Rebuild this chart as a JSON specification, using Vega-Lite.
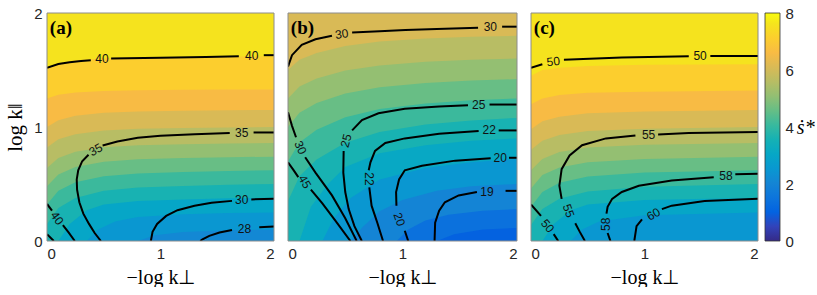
{
"$schema":"https://vega.github.io/schema/vega-lite/v6.json",
"padding":{"left":4,"top":6,"right":0,"bottom":0},
"background":"white",
"spacing":14,
"bounds":"flush",
"resolve":{"scale":{"color":"shared"}},
"config":{"view":{"stroke":null},"axis":{"labelFont":"Liberation Sans","labelFontSize":15,"labelColor":"#262626","ticks":false,"domain":false,"grid":false,"format":"d","titleFont":"Liberation Serif","titleFontSize":20,"titleFontWeight":"normal","titleColor":"#000"}},
"datasets":{
"tags":[{"p":"a","t":"(a)","x":0.025,"y":1.87},{"p":"b","t":"(b)","x":0.025,"y":1.87},{"p":"c","t":"(c)","x":0.025,"y":1.87}],
"labels":[
{"p":"a","id":"h","t":"40","x":0.484,"y":1.594},{"p":"a","id":"h","t":"40","x":1.804,"y":1.626},{"p":"a","id":"h","t":"35","x":1.715,"y":0.95},{"p":"a","id":"a35","t":"35","x":0.43,"y":0.8},{"p":"a","id":"h","t":"30","x":1.715,"y":0.359},{"p":"a","id":"h","t":"28","x":1.74,"y":0.109},{"p":"a","id":"a40","t":"40","x":0.088,"y":0.2},
{"p":"b","id":"h","t":"30","x":1.767,"y":1.88},{"p":"b","id":"h","t":"25","x":1.665,"y":1.197},{"p":"b","id":"h","t":"22","x":1.758,"y":0.97},{"p":"b","id":"h","t":"20","x":1.854,"y":0.73},{"p":"b","id":"h","t":"19","x":1.738,"y":0.432},{"p":"b","id":"b30t","t":"30","x":0.47,"y":1.815},{"p":"b","id":"b30l","t":"30","x":0.108,"y":0.82},{"p":"b","id":"b45","t":"45","x":0.146,"y":0.52},{"p":"b","id":"b25","t":"25","x":0.507,"y":0.88},{"p":"b","id":"b22","t":"22","x":0.705,"y":0.544},{"p":"b","id":"b20","t":"20","x":0.972,"y":0.19},
{"p":"c","id":"h","t":"50","x":1.49,"y":1.62},{"p":"c","id":"h","t":"55","x":1.036,"y":0.932},{"p":"c","id":"h","t":"58","x":1.717,"y":0.574},{"p":"c","id":"c50t","t":"50","x":0.196,"y":1.574},{"p":"c","id":"c55","t":"55","x":0.33,"y":0.265},{"p":"c","id":"c58","t":"58","x":0.663,"y":0.147},{"p":"c","id":"c60","t":"60","x":1.08,"y":0.235},{"p":"c","id":"c50b","t":"50","x":0.146,"y":0.132}
],
"lines":[
{"p":"a","c":"a1","i":0,"x":0,"y":1.52},{"p":"a","c":"a1","i":1,"x":0.1,"y":1.552},{"p":"a","c":"a1","i":2,"x":0.2,"y":1.568},{"p":"a","c":"a1","i":3,"x":0.3,"y":1.578},{"p":"a","c":"a1","i":4,"x":0.386,"y":1.585},
{"p":"a","c":"a2","i":0,"x":0.565,"y":1.6},{"p":"a","c":"a2","i":1,"x":1.0,"y":1.608},{"p":"a","c":"a2","i":2,"x":1.4,"y":1.615},{"p":"a","c":"a2","i":3,"x":1.69,"y":1.62},
{"p":"a","c":"a3","i":0,"x":1.91,"y":1.63},{"p":"a","c":"a3","i":1,"x":2,"y":1.63},
{"p":"a","c":"a4","i":0,"x":1.82,"y":0.952},{"p":"a","c":"a4","i":1,"x":2,"y":0.952},
{"p":"a","c":"a5","i":0,"x":1.61,"y":0.947},{"p":"a","c":"a5","i":1,"x":1.3,"y":0.937},{"p":"a","c":"a5","i":2,"x":1.0,"y":0.924},{"p":"a","c":"a5","i":3,"x":0.8,"y":0.905},{"p":"a","c":"a5","i":4,"x":0.62,"y":0.872},{"p":"a","c":"a5","i":5,"x":0.49,"y":0.838},
{"p":"a","c":"a6","i":0,"x":0.366,"y":0.756},{"p":"a","c":"a6","i":1,"x":0.31,"y":0.7},{"p":"a","c":"a6","i":2,"x":0.275,"y":0.62},{"p":"a","c":"a6","i":3,"x":0.262,"y":0.54},{"p":"a","c":"a6","i":4,"x":0.265,"y":0.45},{"p":"a","c":"a6","i":5,"x":0.285,"y":0.34},{"p":"a","c":"a6","i":6,"x":0.32,"y":0.24},{"p":"a","c":"a6","i":7,"x":0.37,"y":0.15},{"p":"a","c":"a6","i":8,"x":0.42,"y":0.07},{"p":"a","c":"a6","i":9,"x":0.475,"y":0},
{"p":"a","c":"a7","i":0,"x":1.8,"y":0.365},{"p":"a","c":"a7","i":1,"x":2,"y":0.37},
{"p":"a","c":"a8","i":0,"x":1.63,"y":0.352},{"p":"a","c":"a8","i":1,"x":1.45,"y":0.335},{"p":"a","c":"a8","i":2,"x":1.3,"y":0.31},{"p":"a","c":"a8","i":3,"x":1.15,"y":0.27},{"p":"a","c":"a8","i":4,"x":1.05,"y":0.22},{"p":"a","c":"a8","i":5,"x":0.97,"y":0.15},{"p":"a","c":"a8","i":6,"x":0.93,"y":0.08},{"p":"a","c":"a8","i":7,"x":0.915,"y":0},
{"p":"a","c":"a9","i":0,"x":1.87,"y":0.12},{"p":"a","c":"a9","i":1,"x":2,"y":0.128},
{"p":"a","c":"a10","i":0,"x":1.63,"y":0.097},{"p":"a","c":"a10","i":1,"x":1.52,"y":0.075},{"p":"a","c":"a10","i":2,"x":1.43,"y":0.045},{"p":"a","c":"a10","i":3,"x":1.37,"y":0.015},{"p":"a","c":"a10","i":4,"x":1.35,"y":0},
{"p":"a","c":"a11","i":0,"x":0,"y":0.325},{"p":"a","c":"a11","i":1,"x":0.044,"y":0.266},
{"p":"a","c":"a12","i":0,"x":0.14,"y":0.14},{"p":"a","c":"a12","i":1,"x":0.19,"y":0.075},{"p":"a","c":"a12","i":2,"x":0.245,"y":0},
{"p":"a","c":"a13","i":0,"x":0,"y":0.06},{"p":"a","c":"a13","i":1,"x":0.06,"y":0},
{"p":"b","c":"b1","i":0,"x":0,"y":1.53},{"p":"b","c":"b1","i":1,"x":0.035,"y":1.63},{"p":"b","c":"b1","i":2,"x":0.12,"y":1.72},{"p":"b","c":"b1","i":3,"x":0.24,"y":1.77},{"p":"b","c":"b1","i":4,"x":0.384,"y":1.8},
{"p":"b","c":"b2","i":0,"x":0.56,"y":1.83},{"p":"b","c":"b2","i":1,"x":0.8,"y":1.84},{"p":"b","c":"b2","i":2,"x":1.025,"y":1.85},{"p":"b","c":"b2","i":3,"x":1.3,"y":1.86},{"p":"b","c":"b2","i":4,"x":1.66,"y":1.87},
{"p":"b","c":"b3","i":0,"x":1.87,"y":1.88},{"p":"b","c":"b3","i":1,"x":2,"y":1.88},
{"p":"b","c":"b4","i":0,"x":1.76,"y":1.197},{"p":"b","c":"b4","i":1,"x":2,"y":1.197},
{"p":"b","c":"b5","i":0,"x":1.572,"y":1.19},{"p":"b","c":"b5","i":1,"x":1.32,"y":1.18},{"p":"b","c":"b5","i":2,"x":1.02,"y":1.16},{"p":"b","c":"b5","i":3,"x":0.79,"y":1.12},{"p":"b","c":"b5","i":4,"x":0.646,"y":1.06},{"p":"b","c":"b5","i":5,"x":0.56,"y":0.97},
{"p":"b","c":"b6","i":0,"x":0.486,"y":0.79},{"p":"b","c":"b6","i":1,"x":0.483,"y":0.6},{"p":"b","c":"b6","i":2,"x":0.5,"y":0.43},{"p":"b","c":"b6","i":3,"x":0.53,"y":0.28},{"p":"b","c":"b6","i":4,"x":0.58,"y":0.13},{"p":"b","c":"b6","i":5,"x":0.645,"y":0},
{"p":"b","c":"b7","i":0,"x":1.84,"y":0.97},{"p":"b","c":"b7","i":1,"x":2,"y":0.97},
{"p":"b","c":"b8","i":0,"x":1.665,"y":0.965},{"p":"b","c":"b8","i":1,"x":1.32,"y":0.94},{"p":"b","c":"b8","i":2,"x":1.02,"y":0.9},{"p":"b","c":"b8","i":3,"x":0.85,"y":0.86},{"p":"b","c":"b8","i":4,"x":0.76,"y":0.79},{"p":"b","c":"b8","i":5,"x":0.72,"y":0.69},{"p":"b","c":"b8","i":6,"x":0.705,"y":0.62},
{"p":"b","c":"b9","i":0,"x":0.71,"y":0.47},{"p":"b","c":"b9","i":1,"x":0.73,"y":0.31},{"p":"b","c":"b9","i":2,"x":0.78,"y":0.16},{"p":"b","c":"b9","i":3,"x":0.83,"y":0},
{"p":"b","c":"b10","i":0,"x":1.93,"y":0.73},{"p":"b","c":"b10","i":1,"x":2,"y":0.73},
{"p":"b","c":"b11","i":0,"x":1.77,"y":0.726},{"p":"b","c":"b11","i":1,"x":1.46,"y":0.705},{"p":"b","c":"b11","i":2,"x":1.17,"y":0.66},{"p":"b","c":"b11","i":3,"x":1.02,"y":0.62},{"p":"b","c":"b11","i":4,"x":0.97,"y":0.54},{"p":"b","c":"b11","i":5,"x":0.944,"y":0.43},{"p":"b","c":"b11","i":6,"x":0.947,"y":0.31},
{"p":"b","c":"b12","i":0,"x":1.02,"y":0.09},{"p":"b","c":"b12","i":1,"x":1.05,"y":0},
{"p":"b","c":"b13","i":0,"x":1.9,"y":0.44},{"p":"b","c":"b13","i":1,"x":2,"y":0.44},
{"p":"b","c":"b14","i":0,"x":1.65,"y":0.43},{"p":"b","c":"b14","i":1,"x":1.49,"y":0.4},{"p":"b","c":"b14","i":2,"x":1.37,"y":0.34},{"p":"b","c":"b14","i":3,"x":1.32,"y":0.265},{"p":"b","c":"b14","i":4,"x":1.285,"y":0.16},{"p":"b","c":"b14","i":5,"x":1.28,"y":0},
{"p":"b","c":"b15","i":0,"x":0,"y":1.13},{"p":"b","c":"b15","i":1,"x":0.035,"y":1.01},{"p":"b","c":"b15","i":2,"x":0.07,"y":0.91},
{"p":"b","c":"b16","i":0,"x":0.15,"y":0.735},{"p":"b","c":"b16","i":1,"x":0.24,"y":0.6},{"p":"b","c":"b16","i":2,"x":0.384,"y":0.4},{"p":"b","c":"b16","i":3,"x":0.5,"y":0.2},{"p":"b","c":"b16","i":4,"x":0.6,"y":0},
{"p":"b","c":"b17","i":0,"x":0,"y":0.69},{"p":"b","c":"b17","i":1,"x":0.05,"y":0.62},{"p":"b","c":"b17","i":2,"x":0.09,"y":0.56},
{"p":"b","c":"b18","i":0,"x":0.2,"y":0.45},{"p":"b","c":"b18","i":1,"x":0.3,"y":0.33},{"p":"b","c":"b18","i":2,"x":0.42,"y":0.17},{"p":"b","c":"b18","i":3,"x":0.545,"y":0},
{"p":"c","c":"c1","i":0,"x":0,"y":1.52},{"p":"c","c":"c1","i":1,"x":0.1,"y":1.55},
{"p":"c","c":"c2","i":0,"x":0.29,"y":1.59},{"p":"c","c":"c2","i":1,"x":0.8,"y":1.61},{"p":"c","c":"c2","i":2,"x":1.39,"y":1.62},
{"p":"c","c":"c3","i":0,"x":1.58,"y":1.623},{"p":"c","c":"c3","i":1,"x":2,"y":1.623},
{"p":"c","c":"c4","i":0,"x":2,"y":0.956},{"p":"c","c":"c4","i":1,"x":1.39,"y":0.947},{"p":"c","c":"c4","i":2,"x":1.12,"y":0.935},
{"p":"c","c":"c5","i":0,"x":0.92,"y":0.926},{"p":"c","c":"c5","i":1,"x":0.66,"y":0.9},{"p":"c","c":"c5","i":2,"x":0.45,"y":0.84},{"p":"c","c":"c5","i":3,"x":0.34,"y":0.75},{"p":"c","c":"c5","i":4,"x":0.27,"y":0.63},{"p":"c","c":"c5","i":5,"x":0.25,"y":0.485},{"p":"c","c":"c5","i":6,"x":0.27,"y":0.37},
{"p":"c","c":"c6","i":0,"x":0.39,"y":0.156},{"p":"c","c":"c6","i":1,"x":0.43,"y":0.08},{"p":"c","c":"c6","i":2,"x":0.475,"y":0},
{"p":"c","c":"c7","i":0,"x":2,"y":0.59},{"p":"c","c":"c7","i":1,"x":1.8,"y":0.585},
{"p":"c","c":"c8","i":0,"x":1.61,"y":0.56},{"p":"c","c":"c8","i":1,"x":1.24,"y":0.53},{"p":"c","c":"c8","i":2,"x":0.95,"y":0.485},{"p":"c","c":"c8","i":3,"x":0.8,"y":0.43},{"p":"c","c":"c8","i":4,"x":0.715,"y":0.37},{"p":"c","c":"c8","i":5,"x":0.675,"y":0.3},{"p":"c","c":"c8","i":6,"x":0.665,"y":0.24},
{"p":"c","c":"c9","i":0,"x":0.675,"y":0.07},{"p":"c","c":"c9","i":1,"x":0.7,"y":0},
{"p":"c","c":"c10","i":0,"x":2,"y":0.37},{"p":"c","c":"c10","i":1,"x":1.53,"y":0.35},{"p":"c","c":"c10","i":2,"x":1.24,"y":0.31},{"p":"c","c":"c10","i":3,"x":1.153,"y":0.28},
{"p":"c","c":"c11","i":0,"x":0.978,"y":0.19},{"p":"c","c":"c11","i":1,"x":0.93,"y":0.13},{"p":"c","c":"c11","i":2,"x":0.91,"y":0},
{"p":"c","c":"c12","i":0,"x":0,"y":0.32},{"p":"c","c":"c12","i":1,"x":0.088,"y":0.22},
{"p":"c","c":"c13","i":0,"x":0.2,"y":0.06},{"p":"c","c":"c13","i":1,"x":0.24,"y":0}
],
"fill":[
{"p":"a","b":"a00","v":7.6,"x":0,"y":2},{"p":"a","b":"a00","v":7.6,"x":2,"y":2},
{"p":"a","b":"a01","v":7.1,"x":0,"y":1.52},{"p":"a","b":"a01","v":7.1,"x":0.1,"y":1.56},{"p":"a","b":"a01","v":7.1,"x":0.25,"y":1.585},{"p":"a","b":"a01","v":7.1,"x":0.5,"y":1.603},{"p":"a","b":"a01","v":7.1,"x":0.8,"y":1.611},{"p":"a","b":"a01","v":7.1,"x":1.2,"y":1.615},{"p":"a","b":"a01","v":7.1,"x":1.6,"y":1.618},{"p":"a","b":"a01","v":7.1,"x":2,"y":1.62},
{"p":"a","b":"a02","v":6.6,"x":0,"y":1.25},{"p":"a","b":"a02","v":6.6,"x":0.1,"y":1.282},{"p":"a","b":"a02","v":6.6,"x":0.25,"y":1.302},{"p":"a","b":"a02","v":6.6,"x":0.5,"y":1.316},{"p":"a","b":"a02","v":6.6,"x":0.8,"y":1.323},{"p":"a","b":"a02","v":6.6,"x":1.2,"y":1.326},{"p":"a","b":"a02","v":6.6,"x":1.6,"y":1.328},{"p":"a","b":"a02","v":6.6,"x":2,"y":1.33},
{"p":"a","b":"a03","v":6.1,"x":0,"y":1.0},{"p":"a","b":"a03","v":6.1,"x":0.1,"y":1.06},{"p":"a","b":"a03","v":6.1,"x":0.25,"y":1.098},{"p":"a","b":"a03","v":6.1,"x":0.5,"y":1.125},{"p":"a","b":"a03","v":6.1,"x":0.8,"y":1.137},{"p":"a","b":"a03","v":6.1,"x":1.2,"y":1.143},{"p":"a","b":"a03","v":6.1,"x":1.6,"y":1.147},{"p":"a","b":"a03","v":6.1,"x":2,"y":1.15},
{"p":"a","b":"a04","v":5.6,"x":0,"y":0.82},{"p":"a","b":"a04","v":5.6,"x":0.1,"y":0.892},{"p":"a","b":"a04","v":5.6,"x":0.25,"y":0.937},{"p":"a","b":"a04","v":5.6,"x":0.5,"y":0.969},{"p":"a","b":"a04","v":5.6,"x":0.8,"y":0.984},{"p":"a","b":"a04","v":5.6,"x":1.2,"y":0.991},{"p":"a","b":"a04","v":5.6,"x":1.6,"y":0.996},{"p":"a","b":"a04","v":5.6,"x":2,"y":1.0},
{"p":"a","b":"a05","v":5.1,"x":0,"y":0.64},{"p":"a","b":"a05","v":5.1,"x":0.1,"y":0.728},{"p":"a","b":"a05","v":5.1,"x":0.25,"y":0.783},{"p":"a","b":"a05","v":5.1,"x":0.5,"y":0.823},{"p":"a","b":"a05","v":5.1,"x":0.8,"y":0.84},{"p":"a","b":"a05","v":5.1,"x":1.2,"y":0.849},{"p":"a","b":"a05","v":5.1,"x":1.6,"y":0.856},{"p":"a","b":"a05","v":5.1,"x":2,"y":0.86},
{"p":"a","b":"a06","v":4.6,"x":0,"y":0.48},{"p":"a","b":"a06","v":4.6,"x":0.1,"y":0.584},{"p":"a","b":"a06","v":4.6,"x":0.25,"y":0.649},{"p":"a","b":"a06","v":4.6,"x":0.5,"y":0.696},{"p":"a","b":"a06","v":4.6,"x":0.8,"y":0.717},{"p":"a","b":"a06","v":4.6,"x":1.2,"y":0.727},{"p":"a","b":"a06","v":4.6,"x":1.6,"y":0.735},{"p":"a","b":"a06","v":4.6,"x":2,"y":0.74},
{"p":"a","b":"a07","v":4.1,"x":0,"y":0.32},{"p":"a","b":"a07","v":4.1,"x":0.1,"y":0.44},{"p":"a","b":"a07","v":4.1,"x":0.25,"y":0.515},{"p":"a","b":"a07","v":4.1,"x":0.5,"y":0.569},{"p":"a","b":"a07","v":4.1,"x":0.8,"y":0.593},{"p":"a","b":"a07","v":4.1,"x":1.2,"y":0.605},{"p":"a","b":"a07","v":4.1,"x":1.6,"y":0.614},{"p":"a","b":"a07","v":4.1,"x":2,"y":0.62},
{"p":"a","b":"a08","v":3.6,"x":0,"y":0.15},{"p":"a","b":"a08","v":3.6,"x":0.1,"y":0.29},{"p":"a","b":"a08","v":3.6,"x":0.25,"y":0.378},{"p":"a","b":"a08","v":3.6,"x":0.5,"y":0.44},{"p":"a","b":"a08","v":3.6,"x":0.8,"y":0.469},{"p":"a","b":"a08","v":3.6,"x":1.2,"y":0.483},{"p":"a","b":"a08","v":3.6,"x":1.6,"y":0.493},{"p":"a","b":"a08","v":3.6,"x":2,"y":0.5},
{"p":"a","b":"a09","v":3.0,"x":0.1,"y":0},{"p":"a","b":"a09","v":3.0,"x":0.2,"y":0.15},{"p":"a","b":"a09","v":3.0,"x":0.35,"y":0.27},{"p":"a","b":"a09","v":3.0,"x":0.5,"y":0.32},{"p":"a","b":"a09","v":3.0,"x":0.8,"y":0.35},{"p":"a","b":"a09","v":3.0,"x":1.2,"y":0.365},{"p":"a","b":"a09","v":3.0,"x":1.6,"y":0.375},{"p":"a","b":"a09","v":3.0,"x":2,"y":0.38},
{"p":"a","b":"a10","v":2.5,"x":0.35,"y":0},{"p":"a","b":"a10","v":2.5,"x":0.45,"y":0.1},{"p":"a","b":"a10","v":2.5,"x":0.6,"y":0.17},{"p":"a","b":"a10","v":2.5,"x":0.8,"y":0.21},{"p":"a","b":"a10","v":2.5,"x":1.2,"y":0.235},{"p":"a","b":"a10","v":2.5,"x":1.6,"y":0.245},{"p":"a","b":"a10","v":2.5,"x":2,"y":0.25},
{"p":"a","b":"a11","v":2.1,"x":0.8,"y":0},{"p":"a","b":"a11","v":2.1,"x":0.95,"y":0.05},{"p":"a","b":"a11","v":2.1,"x":1.2,"y":0.08},{"p":"a","b":"a11","v":2.1,"x":1.6,"y":0.095},{"p":"a","b":"a11","v":2.1,"x":2,"y":0.1},
{"p":"b","b":"b00","v":6.1,"x":0,"y":2},{"p":"b","b":"b00","v":6.1,"x":2,"y":2},
{"p":"b","b":"b01","v":5.6,"x":0,"y":1.5},{"p":"b","b":"b01","v":5.6,"x":0.1,"y":1.59},{"p":"b","b":"b01","v":5.6,"x":0.25,"y":1.65},{"p":"b","b":"b01","v":5.6,"x":0.5,"y":1.71},{"p":"b","b":"b01","v":5.6,"x":0.8,"y":1.749},{"p":"b","b":"b01","v":5.6,"x":1.2,"y":1.776},{"p":"b","b":"b01","v":5.6,"x":1.6,"y":1.791},{"p":"b","b":"b01","v":5.6,"x":2,"y":1.8},
{"p":"b","b":"b02","v":5.1,"x":0,"y":1.25},{"p":"b","b":"b02","v":5.1,"x":0.1,"y":1.355},{"p":"b","b":"b02","v":5.1,"x":0.25,"y":1.425},{"p":"b","b":"b02","v":5.1,"x":0.5,"y":1.495},{"p":"b","b":"b02","v":5.1,"x":0.8,"y":1.54},{"p":"b","b":"b02","v":5.1,"x":1.2,"y":1.572},{"p":"b","b":"b02","v":5.1,"x":1.6,"y":1.59},{"p":"b","b":"b02","v":5.1,"x":2,"y":1.6},
{"p":"b","b":"b03","v":4.6,"x":0,"y":1.0},{"p":"b","b":"b03","v":4.6,"x":0.1,"y":1.126},{"p":"b","b":"b03","v":4.6,"x":0.25,"y":1.21},{"p":"b","b":"b03","v":4.6,"x":0.5,"y":1.294},{"p":"b","b":"b03","v":4.6,"x":0.8,"y":1.349},{"p":"b","b":"b03","v":4.6,"x":1.2,"y":1.386},{"p":"b","b":"b03","v":4.6,"x":1.6,"y":1.407},{"p":"b","b":"b03","v":4.6,"x":2,"y":1.42},
{"p":"b","b":"b04","v":4.1,"x":0,"y":0.7},{"p":"b","b":"b04","v":4.1,"x":0.1,"y":0.865},{"p":"b","b":"b04","v":4.1,"x":0.25,"y":0.975},{"p":"b","b":"b04","v":4.1,"x":0.5,"y":1.085},{"p":"b","b":"b04","v":4.1,"x":0.8,"y":1.157},{"p":"b","b":"b04","v":4.1,"x":1.2,"y":1.206},{"p":"b","b":"b04","v":4.1,"x":1.6,"y":1.234},{"p":"b","b":"b04","v":4.1,"x":2,"y":1.25},
{"p":"b","b":"b05","v":3.6,"x":0,"y":0.35},{"p":"b","b":"b05","v":3.6,"x":0.1,"y":0.569},{"p":"b","b":"b05","v":3.6,"x":0.25,"y":0.715},{"p":"b","b":"b05","v":3.6,"x":0.5,"y":0.861},{"p":"b","b":"b05","v":3.6,"x":0.8,"y":0.956},{"p":"b","b":"b05","v":3.6,"x":1.2,"y":1.022},{"p":"b","b":"b05","v":3.6,"x":1.6,"y":1.058},{"p":"b","b":"b05","v":3.6,"x":2,"y":1.08},
{"p":"b","b":"b06","v":3.1,"x":0.1,"y":0},{"p":"b","b":"b06","v":3.1,"x":0.2,"y":0.3},{"p":"b","b":"b06","v":3.1,"x":0.35,"y":0.5},{"p":"b","b":"b06","v":3.1,"x":0.5,"y":0.65},{"p":"b","b":"b06","v":3.1,"x":0.8,"y":0.77},{"p":"b","b":"b06","v":3.1,"x":1.2,"y":0.84},{"p":"b","b":"b06","v":3.1,"x":1.6,"y":0.88},{"p":"b","b":"b06","v":3.1,"x":2,"y":0.9},
{"p":"b","b":"b07","v":2.5,"x":0.3,"y":0},{"p":"b","b":"b07","v":2.5,"x":0.4,"y":0.2},{"p":"b","b":"b07","v":2.5,"x":0.55,"y":0.38},{"p":"b","b":"b07","v":2.5,"x":0.8,"y":0.54},{"p":"b","b":"b07","v":2.5,"x":1.2,"y":0.64},{"p":"b","b":"b07","v":2.5,"x":1.6,"y":0.69},{"p":"b","b":"b07","v":2.5,"x":2,"y":0.72},
{"p":"b","b":"b08","v":2.0,"x":0.55,"y":0},{"p":"b","b":"b08","v":2.0,"x":0.65,"y":0.12},{"p":"b","b":"b08","v":2.0,"x":0.8,"y":0.26},{"p":"b","b":"b08","v":2.0,"x":1.0,"y":0.36},{"p":"b","b":"b08","v":2.0,"x":1.3,"y":0.44},{"p":"b","b":"b08","v":2.0,"x":1.6,"y":0.48},{"p":"b","b":"b08","v":2.0,"x":2,"y":0.5},
{"p":"b","b":"b09","v":1.4,"x":0.95,"y":0},{"p":"b","b":"b09","v":1.4,"x":1.05,"y":0.1},{"p":"b","b":"b09","v":1.4,"x":1.2,"y":0.18},{"p":"b","b":"b09","v":1.4,"x":1.4,"y":0.23},{"p":"b","b":"b09","v":1.4,"x":1.7,"y":0.265},{"p":"b","b":"b09","v":1.4,"x":2,"y":0.28},
{"p":"b","b":"b10","v":1.0,"x":1.3,"y":0},{"p":"b","b":"b10","v":1.0,"x":1.45,"y":0.06},{"p":"b","b":"b10","v":1.0,"x":1.7,"y":0.1},{"p":"b","b":"b10","v":1.0,"x":2,"y":0.115},
{"p":"c","b":"c00","v":7.6,"x":0,"y":2},{"p":"c","b":"c00","v":7.6,"x":2,"y":2},
{"p":"c","b":"c01","v":7.1,"x":0,"y":1.45},{"p":"c","b":"c01","v":7.1,"x":0.1,"y":1.5},{"p":"c","b":"c01","v":7.1,"x":0.25,"y":1.52},{"p":"c","b":"c01","v":7.1,"x":0.5,"y":1.535},{"p":"c","b":"c01","v":7.1,"x":1.0,"y":1.545},{"p":"c","b":"c01","v":7.1,"x":2,"y":1.55},
{"p":"c","b":"c02","v":6.6,"x":0,"y":1.2},{"p":"c","b":"c02","v":6.6,"x":0.1,"y":1.25},{"p":"c","b":"c02","v":6.6,"x":0.25,"y":1.28},{"p":"c","b":"c02","v":6.6,"x":0.5,"y":1.3},{"p":"c","b":"c02","v":6.6,"x":1.0,"y":1.31},{"p":"c","b":"c02","v":6.6,"x":2,"y":1.32},
{"p":"c","b":"c03","v":6.1,"x":0,"y":0.98},{"p":"c","b":"c03","v":6.1,"x":0.1,"y":1.05},{"p":"c","b":"c03","v":6.1,"x":0.25,"y":1.09},{"p":"c","b":"c03","v":6.1,"x":0.5,"y":1.12},{"p":"c","b":"c03","v":6.1,"x":1.0,"y":1.135},{"p":"c","b":"c03","v":6.1,"x":2,"y":1.15},
{"p":"c","b":"c04","v":5.6,"x":0,"y":0.8},{"p":"c","b":"c04","v":5.6,"x":0.1,"y":0.88},{"p":"c","b":"c04","v":5.6,"x":0.25,"y":0.93},{"p":"c","b":"c04","v":5.6,"x":0.5,"y":0.965},{"p":"c","b":"c04","v":5.6,"x":1.0,"y":0.985},{"p":"c","b":"c04","v":5.6,"x":2,"y":1.0},
{"p":"c","b":"c05","v":5.1,"x":0,"y":0.62},{"p":"c","b":"c05","v":5.1,"x":0.1,"y":0.72},{"p":"c","b":"c05","v":5.1,"x":0.25,"y":0.78},{"p":"c","b":"c05","v":5.1,"x":0.5,"y":0.82},{"p":"c","b":"c05","v":5.1,"x":1.0,"y":0.845},{"p":"c","b":"c05","v":5.1,"x":2,"y":0.86},
{"p":"c","b":"c06","v":4.6,"x":0,"y":0.46},{"p":"c","b":"c06","v":4.6,"x":0.1,"y":0.58},{"p":"c","b":"c06","v":4.6,"x":0.25,"y":0.645},{"p":"c","b":"c06","v":4.6,"x":0.5,"y":0.69},{"p":"c","b":"c06","v":4.6,"x":1.0,"y":0.72},{"p":"c","b":"c06","v":4.6,"x":2,"y":0.74},
{"p":"c","b":"c07","v":4.1,"x":0,"y":0.3},{"p":"c","b":"c07","v":4.1,"x":0.1,"y":0.43},{"p":"c","b":"c07","v":4.1,"x":0.25,"y":0.51},{"p":"c","b":"c07","v":4.1,"x":0.5,"y":0.565},{"p":"c","b":"c07","v":4.1,"x":1.0,"y":0.6},{"p":"c","b":"c07","v":4.1,"x":2,"y":0.62},
{"p":"c","b":"c08","v":3.6,"x":0,"y":0.14},{"p":"c","b":"c08","v":3.6,"x":0.1,"y":0.28},{"p":"c","b":"c08","v":3.6,"x":0.25,"y":0.37},{"p":"c","b":"c08","v":3.6,"x":0.5,"y":0.435},{"p":"c","b":"c08","v":3.6,"x":1.0,"y":0.475},{"p":"c","b":"c08","v":3.6,"x":2,"y":0.5},
{"p":"c","b":"c09","v":3.0,"x":0.1,"y":0},{"p":"c","b":"c09","v":3.0,"x":0.2,"y":0.15},{"p":"c","b":"c09","v":3.0,"x":0.35,"y":0.27},{"p":"c","b":"c09","v":3.0,"x":0.5,"y":0.32},{"p":"c","b":"c09","v":3.0,"x":1.0,"y":0.36},{"p":"c","b":"c09","v":3.0,"x":2,"y":0.38},
{"p":"c","b":"c10","v":2.5,"x":0.35,"y":0},{"p":"c","b":"c10","v":2.5,"x":0.45,"y":0.1},{"p":"c","b":"c10","v":2.5,"x":0.6,"y":0.17},{"p":"c","b":"c10","v":2.5,"x":1.0,"y":0.225},{"p":"c","b":"c10","v":2.5,"x":2,"y":0.25}
]
},
"hconcat":[
{"width":227,"height":228,"layer":[
{"data":{"name":"fill"},"transform":[{"filter":"datum.p=='a'"}],"mark":{"type":"area","clip":true},"encoding":{"x":{"field":"x","type":"quantitative","scale":{"domain":[0,2],"nice":false,"zero":false},"axis":{"values":[0,1,2],"title":"−log k⊥","labelPadding":5,"titlePadding":6}},"y":{"field":"y","type":"quantitative","stack":null,"scale":{"domain":[0,2],"nice":false,"zero":false},"axis":{"values":[0,1,2],"title":"log k‖","titleFontSize":21,"labelPadding":5,"titlePadding":8}},"y2":{"datum":0},"detail":{"field":"b"},"color":{"field":"v","type":"quantitative","legend":null,"scale":{"domain":[0,0.508,1.016,1.524,2.032,2.54,3.048,3.556,4.063,4.571,5.079,5.587,6.095,6.603,7.111,7.619,8],"range":["#352A87","#3243BA","#0363E1","#0D75DC","#1485D4","#0998D1","#06A7C6","#15B1B4","#38B99E","#65BE86","#92BF73","#B7BD64","#D9BA56","#F8BB44","#FCCE2E","#F5E41D","#F9FB0E"],"interpolate":"rgb"}}}},
{"data":{"name":"lines"},"transform":[{"filter":"datum.p=='a'"}],"mark":{"type":"line","color":"#000","strokeWidth":2,"clip":true},"encoding":{"x":{"field":"x","type":"quantitative"},"y":{"field":"y","type":"quantitative"},"detail":{"field":"c"},"order":{"field":"i"}}},
{"data":{"name":"labels"},"transform":[{"filter":"datum.p=='a' && datum.id=='h'"}],"mark":{"type":"text","font":"Liberation Sans","fontSize":12,"color":"#111"},"encoding":{"x":{"field":"x","type":"quantitative"},"y":{"field":"y","type":"quantitative"},"text":{"field":"t"}}},
{"data":{"name":"labels"},"transform":[{"filter":"datum.id=='a35'"}],"mark":{"type":"text","font":"Liberation Sans","fontSize":12,"color":"#111","angle":-30},"encoding":{"x":{"field":"x","type":"quantitative"},"y":{"field":"y","type":"quantitative"},"text":{"field":"t"}}},
{"data":{"name":"labels"},"transform":[{"filter":"datum.id=='a40'"}],"mark":{"type":"text","font":"Liberation Sans","fontSize":12,"color":"#111","angle":55},"encoding":{"x":{"field":"x","type":"quantitative"},"y":{"field":"y","type":"quantitative"},"text":{"field":"t"}}},
{"data":{"name":"tags"},"transform":[{"filter":"datum.p=='a'"}],"mark":{"type":"text","font":"Liberation Serif","fontSize":19,"fontWeight":"bold","align":"left","color":"#000"},"encoding":{"x":{"field":"x","type":"quantitative"},"y":{"field":"y","type":"quantitative"},"text":{"field":"t"}}},
{"data":{"values":[{}]},"mark":{"type":"rect","fill":null,"stroke":"#8c8c8c","strokeWidth":1},"encoding":{"x":{"datum":0},"x2":{"datum":2},"y":{"datum":0},"y2":{"datum":2}}}
]},
{"width":229,"height":228,"layer":[
{"data":{"name":"fill"},"transform":[{"filter":"datum.p=='b'"}],"mark":{"type":"area","clip":true},"encoding":{"x":{"field":"x","type":"quantitative","scale":{"domain":[0,2],"nice":false,"zero":false},"axis":{"values":[0,1,2],"title":"−log k⊥","labelPadding":5,"titlePadding":6}},"y":{"field":"y","type":"quantitative","stack":null,"scale":{"domain":[0,2],"nice":false,"zero":false},"axis":null},"y2":{"datum":0},"detail":{"field":"b"},"color":{"field":"v","type":"quantitative","legend":null,"scale":{"domain":[0,0.508,1.016,1.524,2.032,2.54,3.048,3.556,4.063,4.571,5.079,5.587,6.095,6.603,7.111,7.619,8],"range":["#352A87","#3243BA","#0363E1","#0D75DC","#1485D4","#0998D1","#06A7C6","#15B1B4","#38B99E","#65BE86","#92BF73","#B7BD64","#D9BA56","#F8BB44","#FCCE2E","#F5E41D","#F9FB0E"],"interpolate":"rgb"}}}},
{"data":{"name":"lines"},"transform":[{"filter":"datum.p=='b'"}],"mark":{"type":"line","color":"#000","strokeWidth":2,"clip":true},"encoding":{"x":{"field":"x","type":"quantitative"},"y":{"field":"y","type":"quantitative"},"detail":{"field":"c"},"order":{"field":"i"}}},
{"data":{"name":"labels"},"transform":[{"filter":"datum.p=='b' && datum.id=='h'"}],"mark":{"type":"text","font":"Liberation Sans","fontSize":12,"color":"#111"},"encoding":{"x":{"field":"x","type":"quantitative"},"y":{"field":"y","type":"quantitative"},"text":{"field":"t"}}},
{"data":{"name":"labels"},"transform":[{"filter":"datum.id=='b30t'"}],"mark":{"type":"text","font":"Liberation Sans","fontSize":12,"color":"#111","angle":-8},"encoding":{"x":{"field":"x","type":"quantitative"},"y":{"field":"y","type":"quantitative"},"text":{"field":"t"}}},
{"data":{"name":"labels"},"transform":[{"filter":"datum.id=='b30l'"}],"mark":{"type":"text","font":"Liberation Sans","fontSize":12,"color":"#111","angle":65},"encoding":{"x":{"field":"x","type":"quantitative"},"y":{"field":"y","type":"quantitative"},"text":{"field":"t"}}},
{"data":{"name":"labels"},"transform":[{"filter":"datum.id=='b45'"}],"mark":{"type":"text","font":"Liberation Sans","fontSize":12,"color":"#111","angle":60},"encoding":{"x":{"field":"x","type":"quantitative"},"y":{"field":"y","type":"quantitative"},"text":{"field":"t"}}},
{"data":{"name":"labels"},"transform":[{"filter":"datum.id=='b25'"}],"mark":{"type":"text","font":"Liberation Sans","fontSize":12,"color":"#111","angle":-75},"encoding":{"x":{"field":"x","type":"quantitative"},"y":{"field":"y","type":"quantitative"},"text":{"field":"t"}}},
{"data":{"name":"labels"},"transform":[{"filter":"datum.id=='b22'"}],"mark":{"type":"text","font":"Liberation Sans","fontSize":12,"color":"#111","angle":90},"encoding":{"x":{"field":"x","type":"quantitative"},"y":{"field":"y","type":"quantitative"},"text":{"field":"t"}}},
{"data":{"name":"labels"},"transform":[{"filter":"datum.id=='b20'"}],"mark":{"type":"text","font":"Liberation Sans","fontSize":12,"color":"#111","angle":70},"encoding":{"x":{"field":"x","type":"quantitative"},"y":{"field":"y","type":"quantitative"},"text":{"field":"t"}}},
{"data":{"name":"tags"},"transform":[{"filter":"datum.p=='b'"}],"mark":{"type":"text","font":"Liberation Serif","fontSize":19,"fontWeight":"bold","align":"left","color":"#000"},"encoding":{"x":{"field":"x","type":"quantitative"},"y":{"field":"y","type":"quantitative"},"text":{"field":"t"}}},
{"data":{"values":[{}]},"mark":{"type":"rect","fill":null,"stroke":"#8c8c8c","strokeWidth":1},"encoding":{"x":{"datum":0},"x2":{"datum":2},"y":{"datum":0},"y2":{"datum":2}}}
]},
{"spacing":7,"bounds":"flush","hconcat":[
{"width":227,"height":228,"layer":[
{"data":{"name":"fill"},"transform":[{"filter":"datum.p=='c'"}],"mark":{"type":"area","clip":true},"encoding":{"x":{"field":"x","type":"quantitative","scale":{"domain":[0,2],"nice":false,"zero":false},"axis":{"values":[0,1,2],"title":"−log k⊥","labelPadding":5,"titlePadding":6}},"y":{"field":"y","type":"quantitative","stack":null,"scale":{"domain":[0,2],"nice":false,"zero":false},"axis":null},"y2":{"datum":0},"detail":{"field":"b"},"color":{"field":"v","type":"quantitative","legend":null,"scale":{"domain":[0,0.508,1.016,1.524,2.032,2.54,3.048,3.556,4.063,4.571,5.079,5.587,6.095,6.603,7.111,7.619,8],"range":["#352A87","#3243BA","#0363E1","#0D75DC","#1485D4","#0998D1","#06A7C6","#15B1B4","#38B99E","#65BE86","#92BF73","#B7BD64","#D9BA56","#F8BB44","#FCCE2E","#F5E41D","#F9FB0E"],"interpolate":"rgb"}}}},
{"data":{"name":"lines"},"transform":[{"filter":"datum.p=='c'"}],"mark":{"type":"line","color":"#000","strokeWidth":2,"clip":true},"encoding":{"x":{"field":"x","type":"quantitative"},"y":{"field":"y","type":"quantitative"},"detail":{"field":"c"},"order":{"field":"i"}}},
{"data":{"name":"labels"},"transform":[{"filter":"datum.p=='c' && datum.id=='h'"}],"mark":{"type":"text","font":"Liberation Sans","fontSize":12,"color":"#111"},"encoding":{"x":{"field":"x","type":"quantitative"},"y":{"field":"y","type":"quantitative"},"text":{"field":"t"}}},
{"data":{"name":"labels"},"transform":[{"filter":"datum.id=='c50t'"}],"mark":{"type":"text","font":"Liberation Sans","fontSize":12,"color":"#111","angle":-6},"encoding":{"x":{"field":"x","type":"quantitative"},"y":{"field":"y","type":"quantitative"},"text":{"field":"t"}}},
{"data":{"name":"labels"},"transform":[{"filter":"datum.id=='c55'"}],"mark":{"type":"text","font":"Liberation Sans","fontSize":12,"color":"#111","angle":70},"encoding":{"x":{"field":"x","type":"quantitative"},"y":{"field":"y","type":"quantitative"},"text":{"field":"t"}}},
{"data":{"name":"labels"},"transform":[{"filter":"datum.id=='c58'"}],"mark":{"type":"text","font":"Liberation Sans","fontSize":12,"color":"#111","angle":-90},"encoding":{"x":{"field":"x","type":"quantitative"},"y":{"field":"y","type":"quantitative"},"text":{"field":"t"}}},
{"data":{"name":"labels"},"transform":[{"filter":"datum.id=='c60'"}],"mark":{"type":"text","font":"Liberation Sans","fontSize":12,"color":"#111","angle":-30},"encoding":{"x":{"field":"x","type":"quantitative"},"y":{"field":"y","type":"quantitative"},"text":{"field":"t"}}},
{"data":{"name":"labels"},"transform":[{"filter":"datum.id=='c50b'"}],"mark":{"type":"text","font":"Liberation Sans","fontSize":12,"color":"#111","angle":50},"encoding":{"x":{"field":"x","type":"quantitative"},"y":{"field":"y","type":"quantitative"},"text":{"field":"t"}}},
{"data":{"name":"tags"},"transform":[{"filter":"datum.p=='c'"}],"mark":{"type":"text","font":"Liberation Serif","fontSize":19,"fontWeight":"bold","align":"left","color":"#000"},"encoding":{"x":{"field":"x","type":"quantitative"},"y":{"field":"y","type":"quantitative"},"text":{"field":"t"}}},
{"data":{"values":[{}]},"mark":{"type":"rect","fill":null,"stroke":"#8c8c8c","strokeWidth":1},"encoding":{"x":{"datum":0},"x2":{"datum":2},"y":{"datum":0},"y2":{"datum":2}}}
]},
{"width":15,"height":228,"data":{"values":[{}]},"mark":{"type":"rect","stroke":"#333","strokeWidth":0.8,"fill":{"gradient":"linear","x1":0,"y1":1,"x2":0,"y2":0,"stops":[{"offset":0,"color":"#352A87"},{"offset":0.0635,"color":"#3243BA"},{"offset":0.127,"color":"#0363E1"},{"offset":0.1905,"color":"#0D75DC"},{"offset":0.254,"color":"#1485D4"},{"offset":0.3175,"color":"#0998D1"},{"offset":0.381,"color":"#06A7C6"},{"offset":0.4445,"color":"#15B1B4"},{"offset":0.508,"color":"#38B99E"},{"offset":0.571,"color":"#65BE86"},{"offset":0.635,"color":"#92BF73"},{"offset":0.698,"color":"#B7BD64"},{"offset":0.762,"color":"#D9BA56"},{"offset":0.825,"color":"#F8BB44"},{"offset":0.889,"color":"#FCCE2E"},{"offset":0.952,"color":"#F5E41D"},{"offset":1,"color":"#F9FB0E"}]}},"encoding":{"x":{"datum":0,"type":"quantitative","scale":{"domain":[0,1],"nice":false,"zero":false},"axis":null},"x2":{"datum":1},"y":{"datum":0,"type":"quantitative","scale":{"domain":[0,8],"nice":false,"zero":false},"axis":{"orient":"right","values":[0,2,4,6,8],"title":"ṡ*","titleAngle":0,"titleAlign":"left","titleBaseline":"middle","titleFont":"Liberation Serif","titleFontStyle":"italic","titleFontSize":20,"titlePadding":3,"labelPadding":5}},"y2":{"datum":8}}}
]}
]
}
